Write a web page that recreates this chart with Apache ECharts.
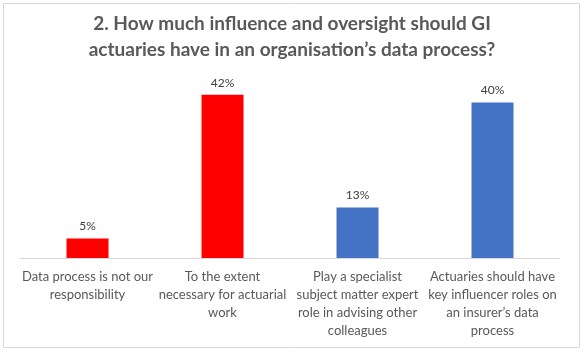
<!DOCTYPE html>
<html>
<head>
<meta charset="utf-8">
<script src="https://cdn.jsdelivr.net/npm/echarts@6/dist/echarts.min.js"></script>
<style>
  html, body { margin: 0; padding: 0; background: #fff; }
  #chart { width: 584px; height: 352px; }
</style>
</head>
<body>
<div id="chart"></div>
<script>
const categories = [
  "Data process is not our\nresponsibility",
  "To the extent\nnecessary for actuarial\nwork",
  "Play a specialist\nsubject matter expert\nrole in advising other\ncolleagues",
  "Actuaries should have\nkey influencer roles on\nan insurer\u2019s data\nprocess"
];
const values = [5, 42, 13, 40];
const barColors = ["#FF0000", "#FF0000", "#4472C4", "#4472C4"];

const chart = echarts.init(document.getElementById("chart"));
chart.setOption({
  animation: false,
  textStyle: { fontFamily: "Lato, 'Open Sans', sans-serif" },
  title: {
    text: "2. How much influence and oversight should GI\nactuaries have in an organisation\u2019s data process?",
    left: "center",
    top: 6,
    textStyle: {
      fontSize: 19,
      fontWeight: "bold",
      color: "#595959",
      lineHeight: 26,
      fontFamily: "Lato, 'Open Sans', sans-serif"
    }
  },
  graphic: [{
    type: "rect",
    shape: { x: 3.5, y: 3.5, width: 576, height: 344 },
    style: { fill: "none", stroke: "#d9d9d9", lineWidth: 1 },
    silent: true
  }],
  grid: { left: 20, right: 24, top: 83, bottom: 94 },
  xAxis: {
    type: "category",
    data: categories,
    axisLine: { lineStyle: { color: "#d9d9d9" } },
    axisTick: { show: false },
    axisLabel: {
      interval: 0,
      color: "#595959",
      fontSize: 13,
      lineHeight: 18,
      margin: 10
    }
  },
  yAxis: {
    type: "value",
    min: 0,
    max: 45,
    show: false,
    splitLine: { show: false }
  },
  series: [{
    type: "bar",
    barWidth: 42,
    data: values.map((v, i) => ({ value: v, itemStyle: { color: barColors[i] } })),
    label: {
      show: true,
      position: "top",
      formatter: "{c}%",
      color: "#404040",
      fontSize: 12,
      distance: 6
    }
  }]
});
</script>
</body>
</html>
